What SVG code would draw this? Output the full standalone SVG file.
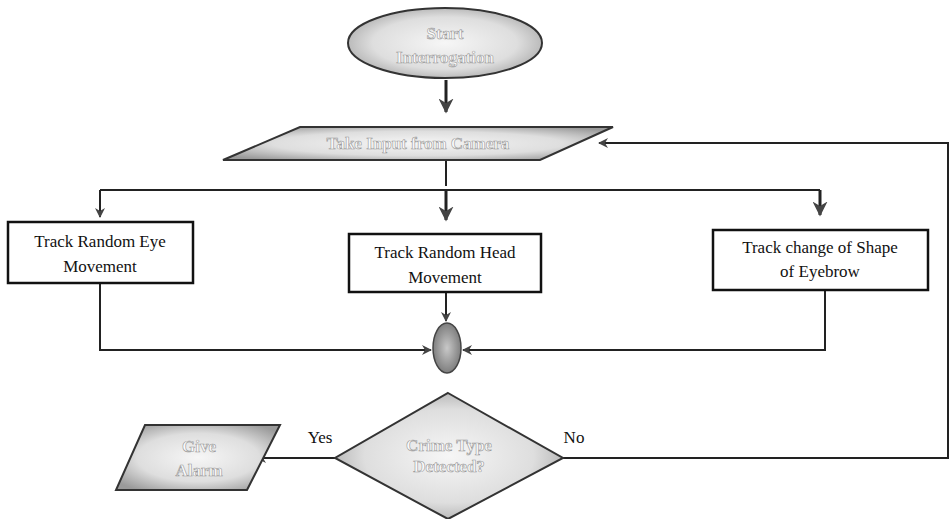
<svg xmlns="http://www.w3.org/2000/svg" width="950" height="519" viewBox="0 0 950 519">
<style>
.box{fill:#fff;stroke:#111;stroke-width:2.5}
text{font-family:"Liberation Serif","DejaVu Serif","Times New Roman",serif}
.t{font-size:17px;fill:#111;text-anchor:middle}
.e{font-size:17px;fill:#fbfbfb;stroke:#999;stroke-width:0.6;text-anchor:middle;font-weight:bold}
.sh{stroke:#333;stroke-width:2}
.c{fill:none;stroke:#222;stroke-width:2}
</style>
<defs>
<radialGradient id="g" cx="50%" cy="50%" r="62%">
<stop offset="0" stop-color="#f6f6f6"/>
<stop offset="0.6" stop-color="#dedede"/>
<stop offset="1" stop-color="#9a9a9a"/>
</radialGradient>
<radialGradient id="g2" cx="50%" cy="50%" r="55%">
<stop offset="0" stop-color="#c8c8c8"/>
<stop offset="1" stop-color="#777"/>
</radialGradient>
<marker id="a" viewBox="0 0 10 10" refX="9" refY="5" markerWidth="5" markerHeight="5" orient="auto-start-reverse">
<path d="M0,0 L10,5 L0,10 L3,5 z" fill="#444"/>
</marker>
</defs>
<g id="connectors" class="c">
<path d="M446,80 V112" marker-end="url(#a)" stroke-width="3"/>
<path d="M446,160 V186"/>
<path d="M100,190 H820"/>
<path d="M100,190 V217" marker-end="url(#a)"/>
<path d="M446,190 V220" marker-end="url(#a)" stroke-width="3"/>
<path d="M820,190 V215" marker-end="url(#a)" stroke-width="3"/>
<path d="M100,283 V350 H431" marker-end="url(#a)"/>
<path d="M825,290 V350 H463" marker-end="url(#a)"/>
<path d="M446,292 V321" marker-end="url(#a)"/>
<path d="M335,458 H257" marker-end="url(#a)"/>
<path d="M563,458 H948 V143 H599" marker-end="url(#a)"/>
</g>
<g id="start">
<ellipse cx="445" cy="43" rx="97" ry="35" fill="url(#g)" class="sh"/>
<text class="e" x="445" y="39">Start</text>
<text class="e" x="445" y="63">Interrogation</text>
</g>
<g id="input">
<polygon points="300,127 613,127 540,160 223,160" fill="url(#g)" class="sh"/>
<text class="e" x="418" y="149">Take Input from Camera</text>
</g>
<g id="eye">
<rect class="box" x="8" y="222" width="185" height="61"/>
<text class="t" x="100" y="247">Track Random Eye</text>
<text class="t" x="100" y="272">Movement</text>
</g>
<g id="head">
<rect class="box" x="349" y="234" width="192" height="58"/>
<text class="t" x="445" y="258">Track Random Head</text>
<text class="t" x="445" y="283">Movement</text>
</g>
<g id="eyebrow">
<rect class="box" x="713" y="230" width="215" height="60"/>
<text class="t" x="820" y="253">Track change of Shape</text>
<text class="t" x="820" y="277">of Eyebrow</text>
</g>
<g id="join">
<ellipse cx="447" cy="348" rx="14" ry="25" fill="url(#g2)" stroke="#444" stroke-width="1.5"/>
</g>
<g id="decision">
<polygon points="448,393 563,458 448,519 335,458" fill="url(#g)" class="sh"/>
<text class="e" x="449" y="451">Crime Type</text>
<text class="e" x="449" y="472">Detected?</text>
<text class="t" x="320" y="443">Yes</text>
<text class="t" x="574" y="443">No</text>
</g>
<g id="alarm">
<polygon points="145,425 280,425 247,490 116,490" fill="url(#g)" class="sh"/>
<text class="e" x="199" y="452">Give</text>
<text class="e" x="199" y="476">Alarm</text>
</g>
</svg>
